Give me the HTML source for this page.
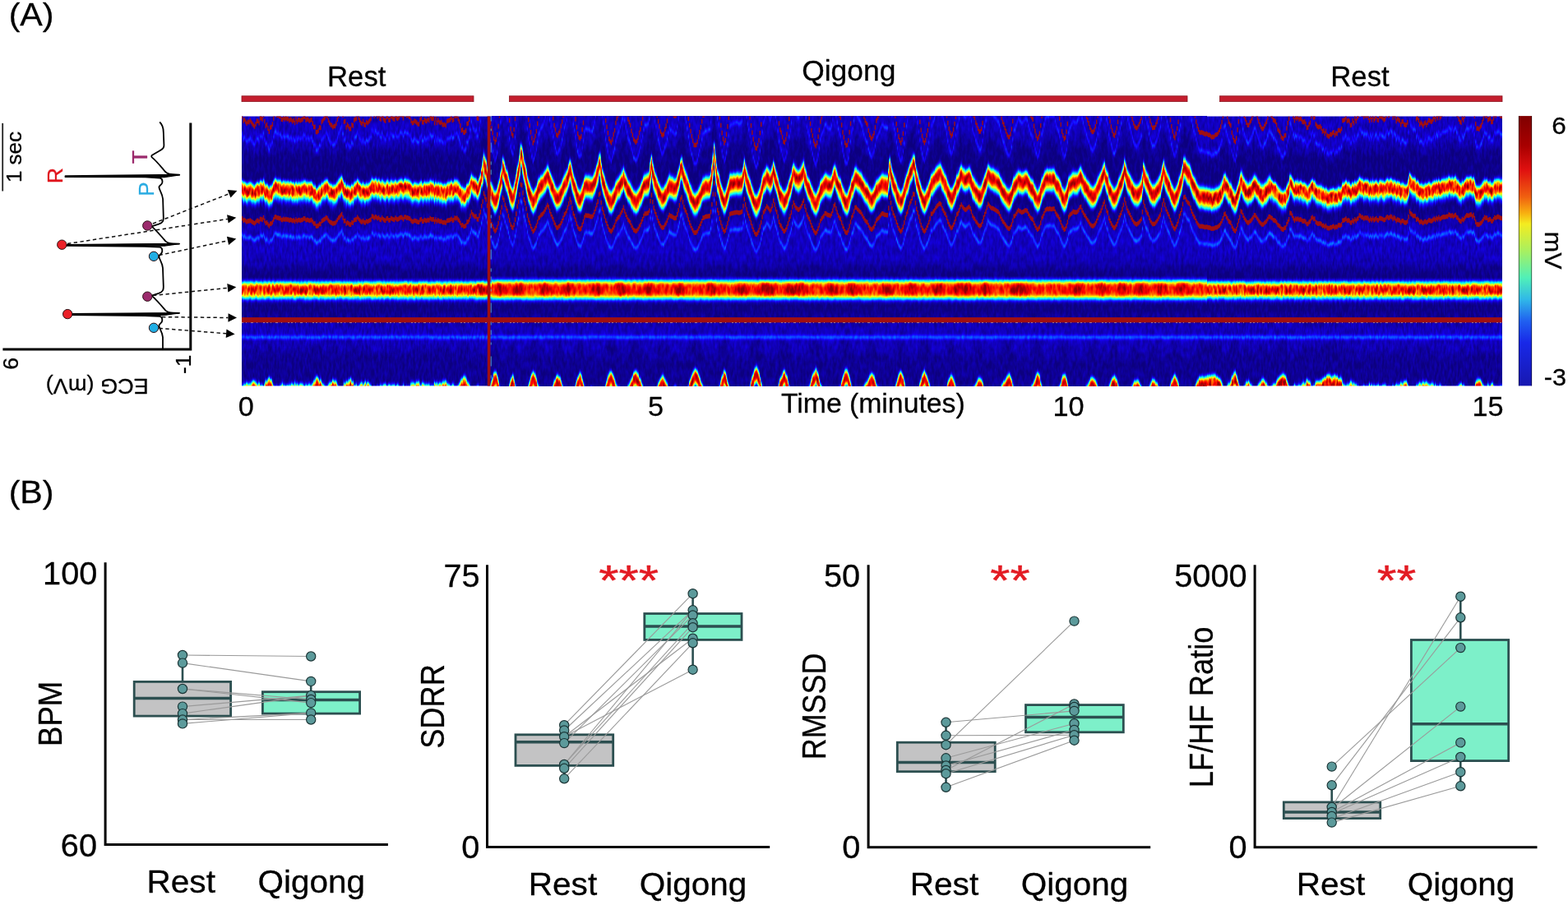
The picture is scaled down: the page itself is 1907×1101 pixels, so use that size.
<!DOCTYPE html>
<html lang="en"><head><meta charset="utf-8"><title>Qigong ECG figure</title>
<style>
html,body{margin:0;padding:0;background:#fff}
svg{display:block}
text{font-family:"Liberation Sans",Arial,Helvetica,sans-serif}
</style></head><body>
<svg width="1907" height="1101" viewBox="0 0 1907 1101">
<defs>
<path id="tr" fill="none" stroke-linejoin="miter" d="M292.00,2.2921H294.00V2.2921h1.36V2.3181h1.36V2.3105h1.36V2.3231h1.36V2.3346h1.36V2.3239h1.36V2.3261h1.36V2.3158h1.36V2.3255h1.36V2.3363h1.36V2.3454h1.36V2.3528h1.36V2.3378h1.36V2.3199h1.36V2.3192h1.36V2.3313h1.36V2.3012h1.36V2.3011h1.36V2.3086h1.36V2.2828h1.36V2.3208h1.36V2.3493h1.36V2.3412h1.36V2.3634h1.36V2.3835h1.36V2.3590h1.36V2.3557h1.36V2.3384h1.36V2.3045h1.36V2.2773h1.36V2.2722h1.36V2.2847h1.36V2.2843h1.36V2.2910h1.36V2.2908h1.36V2.3093h1.36V2.3105h1.36V2.2986h1.36V2.3082h1.36V2.3001h1.36V2.3072h1.36V2.3054h1.36V2.3165h1.36V2.3087h1.36V2.3129h1.36V2.3226h1.36V2.3142h1.36V2.3307h1.36V2.3065h1.36V2.3234h1.36V2.3122h1.36V2.3114h1.36V2.3170h1.36V2.3125h1.36V2.3080h1.36V2.2938h1.36V2.2957h1.36V2.3144h1.36V2.3075h1.36V2.3120h1.36V2.3193h1.36V2.3143h1.36V2.3108h1.36V2.3338h1.36V2.3557h1.36V2.3546h1.36V2.3853h1.36V2.3867h1.36V2.3785h1.36V2.3583h1.36V2.3597h1.36V2.3247h1.36V2.3164h1.36V2.3058h1.36V2.2978h1.36V2.2824h1.36V2.2910h1.36V2.3152h1.36V2.3298h1.36V2.3414h1.36V2.3460h1.36V2.3566h1.36V2.3507h1.36V2.3497h1.36V2.3357h1.36V2.3095h1.36V2.2876h1.36V2.2757h1.36V2.2551h1.36V2.2394h1.36V2.2853h1.36V2.3240h1.36V2.3202h1.36V2.3577h1.36V2.3424h1.36V2.3525h1.36V2.3666h1.36V2.3665h1.36V2.3417h1.36V2.3474h1.36V2.3148h1.36V2.3077h1.36V2.3036h1.36V2.2775h1.36V2.2973h1.36V2.3144h1.36V2.3289h1.36V2.3369h1.36V2.3210h1.36V2.3401h1.36V2.3435h1.36V2.3252h1.36V2.3320h1.36V2.3229h1.36V2.3166h1.36V2.3050h1.36V2.2655h1.36V2.2713h1.36V2.2874h1.36V2.2730h1.36V2.2784h1.36V2.2921h1.36V2.2815h1.36V2.3036h1.36V2.3084h1.36V2.2845h1.36V2.3030h1.36V2.3134h1.36V2.3184h1.36V2.2953h1.36V2.2912h1.36V2.3132h1.36V2.3135h1.36V2.2900h1.36V2.2971h1.36V2.3053h1.36V2.3087h1.36V2.2863h1.36V2.3015h1.36V2.3054h1.36V2.2964h1.36V2.2834h1.36V2.2786h1.36V2.2857h1.36V2.3019h1.36V2.2768h1.36V2.2749h1.36V2.2861h1.36V2.2835h1.36V2.2932h1.36V2.2962h1.36V2.3192h1.36V2.3316h1.36V2.3296h1.36V2.3182h1.36V2.3225h1.36V2.3288h1.36V2.3380h1.36V2.3377h1.36V2.3117h1.36V2.3023h1.36V2.3265h1.36V2.3276h1.36V2.3107h1.36V2.3187h1.36V2.3197h1.36V2.3095h1.36V2.3159h1.36V2.2917h1.36V2.3025h1.36V2.3056h1.36V2.3035h1.36V2.3317h1.36V2.3065h1.36V2.3300h1.36V2.3136h1.36V2.3258h1.36V2.3306h1.36V2.3259h1.36V2.3397h1.36V2.3431h1.36V2.3390h1.36V2.3466h1.36V2.3218h1.36V2.3166h1.36V2.3155h1.36V2.3100h1.36V2.2982h1.36V2.3158h1.36V2.3108h1.36V2.2855h1.36V2.2918h1.36V2.2852h1.36V2.3059h1.36V2.3214h1.36V2.3473h1.36V2.3768h1.36V2.3723h1.36V2.3896h1.36V2.3874h1.36V2.3788h1.36V2.3364h1.36V2.3328h1.36V2.3092h1.36V2.2643h1.36V2.2167h1.36V2.2418h1.36V2.2591h1.36V2.2712h1.36V2.2663h1.36V2.3013h1.36V2.3038h1.36V2.2584h1.36V2.2136h1.36V2.1418h1.36V2.0882h1.36V1.9884h1.36V2.0313h1.36V2.0624h1.36V2.1379h1.36V2.2112h1.36V2.2735h1.36V2.3288h1.36V2.3634h1.36V2.3912h1.36V2.4244h1.36V2.4473h1.36V2.4332h1.36V2.4015h1.36V2.3512h1.36V2.2864h1.36V2.2160h1.36V2.1577h1.36V2.0404h1.36V2.0675h1.36V2.1271h1.36V2.1716h1.36V2.1997h1.36V2.2620h1.36V2.3154h1.36V2.3669h1.36V2.3960h1.36V2.4074h1.36V2.3704h1.36V2.3058h1.36V2.2366h1.36V2.1458h1.36V2.0902h1.36V2.0025h1.36V1.8803h1.36V1.8892h1.36V1.9813h1.36V2.0634h1.36V2.1091h1.36V2.1757h1.36V2.2560h1.36V2.3110h1.36V2.3471h1.36V2.3873h1.36V2.4232h1.36V2.4524h1.36V2.4369h1.36V2.4108h1.36V2.3815h1.36V2.3350h1.36V2.2895h1.36V2.2770h1.36V2.2549h1.36V2.2434h1.36V2.2314h1.36V2.2105h1.36V2.1841h1.36V2.1571h1.36V2.1307h1.36V2.1538h1.36V2.2021h1.36V2.2425h1.36V2.2718h1.36V2.3013h1.36V2.3454h1.36V2.3714h1.36V2.4021h1.36V2.4078h1.36V2.3920h1.36V2.3806h1.36V2.3501h1.36V2.3233h1.36V2.2869h1.36V2.2462h1.36V2.2302h1.36V2.2008h1.36V2.1616h1.36V2.1134h1.36V2.0592h1.36V2.0978h1.36V2.1673h1.36V2.2309h1.36V2.2638h1.36V2.3072h1.36V2.3569h1.36V2.3953h1.36V2.4181h1.36V2.4247h1.36V2.4138h1.36V2.3713h1.36V2.3301h1.36V2.2787h1.36V2.2552h1.36V2.2578h1.36V2.2591h1.36V2.2605h1.36V2.2676h1.36V2.2712h1.36V2.2707h1.36V2.2493h1.36V2.2127h1.36V2.1749h1.36V2.1299h1.36V2.0860h1.36V2.0038h1.36V1.9880h1.36V2.1005h1.36V2.1746h1.36V2.2210h1.36V2.2675h1.36V2.3169h1.36V2.3551h1.36V2.3919h1.36V2.4273h1.36V2.4421h1.36V2.4512h1.36V2.4313h1.36V2.4013h1.36V2.3754h1.36V2.3303h1.36V2.3022h1.36V2.2842h1.36V2.2726h1.36V2.2452h1.36V2.2198h1.36V2.1944h1.36V2.1583h1.36V2.2054h1.36V2.2462h1.36V2.2744h1.36V2.3077h1.36V2.3254h1.36V2.3441h1.36V2.3795h1.36V2.4045h1.36V2.4308h1.36V2.4403h1.36V2.4488h1.36V2.4396h1.36V2.4206h1.36V2.3912h1.36V2.3696h1.36V2.3323h1.36V2.3020h1.36V2.2605h1.36V2.2344h1.36V2.2346h1.36V2.2302h1.36V2.2242h1.36V2.1979h1.36V2.0818h1.36V2.0084h1.36V2.0926h1.36V2.1641h1.36V2.2088h1.36V2.2418h1.36V2.2855h1.36V2.3218h1.36V2.3521h1.36V2.3828h1.36V2.3999h1.36V2.4059h1.36V2.3973h1.36V2.3704h1.36V2.3488h1.36V2.3184h1.36V2.2805h1.36V2.2509h1.36V2.2634h1.36V2.2658h1.36V2.2771h1.36V2.2863h1.36V2.2900h1.36V2.2835h1.36V2.2441h1.36V2.1931h1.36V2.1341h1.36V2.0608h1.36V2.0352h1.36V2.0942h1.36V2.1532h1.36V2.1913h1.36V2.2147h1.36V2.2543h1.36V2.3045h1.36V2.3457h1.36V2.3804h1.36V2.4118h1.36V2.4390h1.36V2.4646h1.36V2.4664h1.36V2.4634h1.36V2.4449h1.36V2.4152h1.36V2.3876h1.36V2.3566h1.36V2.3219h1.36V2.2858h1.36V2.2826h1.36V2.2726h1.36V2.2683h1.36V2.2674h1.36V2.2644h1.36V2.2618h1.36V2.2131h1.36V2.1230h1.36V1.9971h1.36V1.8645h1.36V1.9995h1.36V2.1098h1.36V2.1909h1.36V2.2276h1.36V2.2970h1.36V2.3452h1.36V2.3910h1.36V2.4273h1.36V2.4528h1.36V2.4369h1.36V2.3998h1.36V2.3522h1.36V2.2986h1.36V2.2422h1.36V2.2324h1.36V2.2296h1.36V2.2270h1.36V2.2219h1.36V2.2213h1.36V2.2175h1.36V2.2207h1.36V2.2239h1.36V2.2231h1.36V2.2164h1.36V2.2073h1.36V2.1422h1.36V2.0578h1.36V2.1237h1.36V2.1809h1.36V2.2285h1.36V2.2594h1.36V2.2979h1.36V2.3467h1.36V2.3889h1.36V2.4301h1.36V2.4598h1.36V2.4824h1.36V2.4866h1.36V2.4664h1.36V2.4368h1.36V2.3914h1.36V2.3401h1.36V2.2749h1.36V2.2197h1.36V2.2038h1.36V2.1755h1.36V2.1453h1.36V2.1599h1.36V2.1788h1.36V2.2014h1.36V2.1816h1.36V2.1392h1.36V2.0766h1.36V2.1264h1.36V2.1808h1.36V2.2145h1.36V2.2707h1.36V2.3334h1.36V2.3732h1.36V2.3889h1.36V2.4171h1.36V2.4442h1.36V2.4504h1.36V2.4307h1.36V2.3991h1.36V2.3544h1.36V2.3057h1.36V2.2658h1.36V2.2184h1.36V2.1524h1.36V2.1009h1.36V2.1335h1.36V2.1608h1.36V2.1718h1.36V2.1866h1.36V2.1829h1.36V2.1621h1.36V2.1422h1.36V2.1065h1.36V2.0777h1.36V2.1439h1.36V2.1907h1.36V2.2447h1.36V2.2743h1.36V2.2994h1.36V2.3353h1.36V2.3766h1.36V2.4083h1.36V2.4399h1.36V2.4612h1.36V2.4721h1.36V2.4509h1.36V2.4143h1.36V2.3744h1.36V2.3227h1.36V2.2967h1.36V2.2793h1.36V2.2625h1.36V2.2339h1.36V2.2308h1.36V2.2460h1.36V2.2524h1.36V2.2550h1.36V2.2597h1.36V2.2364h1.36V2.1987h1.36V2.1427h1.36V2.1244h1.36V2.1728h1.36V2.2180h1.36V2.2581h1.36V2.2841h1.36V2.2984h1.36V2.3437h1.36V2.3879h1.36V2.4183h1.36V2.4512h1.36V2.4682h1.36V2.4641h1.36V2.4371h1.36V2.3872h1.36V2.3350h1.36V2.2796h1.36V2.2549h1.36V2.2072h1.36V2.1593h1.36V2.1585h1.36V2.1778h1.36V2.1932h1.36V2.2074h1.36V2.2169h1.36V2.2396h1.36V2.2673h1.36V2.2923h1.36V2.3168h1.36V2.3317h1.36V2.3413h1.36V2.3767h1.36V2.4035h1.36V2.4201h1.36V2.4280h1.36V2.4110h1.36V2.3916h1.36V2.3578h1.36V2.3182h1.36V2.3002h1.36V2.2869h1.36V2.2720h1.36V2.2511h1.36V2.2343h1.36V2.2340h1.36V2.2466h1.36V2.2481h1.36V2.2523h1.36V2.2522h1.36V2.1665h1.36V2.0346h1.36V2.1031h1.36V2.1735h1.36V2.2262h1.36V2.2577h1.36V2.2888h1.36V2.3368h1.36V2.3740h1.36V2.4134h1.36V2.4376h1.36V2.4530h1.36V2.4318h1.36V2.3956h1.36V2.3434h1.36V2.2849h1.36V2.2385h1.36V2.2111h1.36V2.1572h1.36V2.1091h1.36V2.0842h1.36V2.0464h1.36V1.9965h1.36V2.0012h1.36V2.1042h1.36V2.1763h1.36V2.2221h1.36V2.2741h1.36V2.3246h1.36V2.3739h1.36V2.4095h1.36V2.4362h1.36V2.4519h1.36V2.4365h1.36V2.4059h1.36V2.3771h1.36V2.3400h1.36V2.2961h1.36V2.2378h1.36V2.2346h1.36V2.2112h1.36V2.1948h1.36V2.1673h1.36V2.1465h1.36V2.1326h1.36V2.1166h1.36V2.1110h1.36V2.1249h1.36V2.1716h1.36V2.1986h1.36V2.2266h1.36V2.2458h1.36V2.2867h1.36V2.3310h1.36V2.3652h1.36V2.3919h1.36V2.4097h1.36V2.3984h1.36V2.3707h1.36V2.3366h1.36V2.2945h1.36V2.2456h1.36V2.2332h1.36V2.1947h1.36V2.1519h1.36V2.1245h1.36V2.1498h1.36V2.1663h1.36V2.1821h1.36V2.1870h1.36V2.1743h1.36V2.1604h1.36V2.1512h1.36V2.1732h1.36V2.2117h1.36V2.2593h1.36V2.2852h1.36V2.2993h1.36V2.3281h1.36V2.3448h1.36V2.3669h1.36V2.3822h1.36V2.3832h1.36V2.3676h1.36V2.3304h1.36V2.2797h1.36V2.2416h1.36V2.2072h1.36V2.1604h1.36V2.1175h1.36V2.1373h1.36V2.1543h1.36V2.1670h1.36V2.1693h1.36V2.1764h1.36V2.1857h1.36V2.1944h1.36V2.2038h1.36V2.2132h1.36V2.2344h1.36V2.2680h1.36V2.3003h1.36V2.3258h1.36V2.3397h1.36V2.3619h1.36V2.3809h1.36V2.4031h1.36V2.4153h1.36V2.4165h1.36V2.3980h1.36V2.3681h1.36V2.3200h1.36V2.2671h1.36V2.2604h1.36V2.2371h1.36V2.2129h1.36V2.1928h1.36V2.2028h1.36V2.2091h1.36V2.2194h1.36V2.2141h1.36V2.2064h1.36V2.1956h1.36V2.1947h1.36V2.2038h1.36V2.2367h1.36V2.2616h1.36V2.2851h1.36V2.2962h1.36V2.3090h1.36V2.3499h1.36V2.3798h1.36V2.4081h1.36V2.4282h1.36V2.4176h1.36V2.3951h1.36V2.3465h1.36V2.2892h1.36V2.2658h1.36V2.2318h1.36V2.1945h1.36V2.1819h1.36V2.1757h1.36V2.1801h1.36V2.1742h1.36V2.1783h1.36V2.1794h1.36V2.1754h1.36V2.1764h1.36V2.2098h1.36V2.2384h1.36V2.2574h1.36V2.2759h1.36V2.3022h1.36V2.3405h1.36V2.3823h1.36V2.4064h1.36V2.4274h1.36V2.4185h1.36V2.3843h1.36V2.3362h1.36V2.2764h1.36V2.2514h1.36V2.2393h1.36V2.2269h1.36V2.2088h1.36V2.2161h1.36V2.2166h1.36V2.2175h1.36V2.2069h1.36V2.1896h1.36V2.1578h1.36V2.1508h1.36V2.1948h1.36V2.2223h1.36V2.2491h1.36V2.2652h1.36V2.2929h1.36V2.3129h1.36V2.3337h1.36V2.3572h1.36V2.3748h1.36V2.3856h1.36V2.3845h1.36V2.3727h1.36V2.3516h1.36V2.3242h1.36V2.2867h1.36V2.2513h1.36V2.2272h1.36V2.1986h1.36V2.1612h1.36V2.1188h1.36V2.0893h1.36V2.1498h1.36V2.1996h1.36V2.2233h1.36V2.2889h1.36V2.3205h1.36V2.3533h1.36V2.3780h1.36V2.4014h1.36V2.4084h1.36V2.3908h1.36V2.3633h1.36V2.3240h1.36V2.2838h1.36V2.2528h1.36V2.2259h1.36V2.1788h1.36V2.1280h1.36V2.0612h1.36V2.1097h1.36V2.1663h1.36V2.2011h1.36V2.2265h1.36V2.2507h1.36V2.2828h1.36V2.3074h1.36V2.3320h1.36V2.3502h1.36V2.3596h1.36V2.3633h1.36V2.3528h1.36V2.3392h1.36V2.3223h1.36V2.3002h1.36V2.2134h1.36V2.0924h1.36V2.1419h1.36V2.1900h1.36V2.2209h1.36V2.2415h1.36V2.2865h1.36V2.3188h1.36V2.3429h1.36V2.3606h1.36V2.3595h1.36V2.3577h1.36V2.3409h1.36V2.3228h1.36V2.2988h1.36V2.2713h1.36V2.2464h1.36V2.1888h1.36V2.1250h1.36V2.0735h1.36V2.1290h1.36V2.1792h1.36V2.2116h1.36V2.2396h1.36V2.2707h1.36V2.3129h1.36V2.3516h1.36V2.3812h1.36V2.4098h1.36V2.4211h1.36V2.3955h1.36V2.3639h1.36V2.3243h1.36V2.2664h1.36V2.2332h1.36V2.1874h1.36V2.1187h1.36V2.0381h1.36V2.0298h1.36V2.0636h1.36V2.0904h1.36V2.1039h1.36V2.1148h1.36V2.1634h1.36V2.2064h1.36V2.2406h1.36V2.2688h1.36V2.2882h1.36V2.3228h1.36V2.3493h1.36V2.3712h1.36V2.3867h1.36V2.3907h1.36V2.3873h1.36V2.3914h1.36V2.3951h1.36V2.3997h1.36V2.3953h1.36V2.3992h1.36V2.4042h1.36V2.4037h1.36V2.4114h1.36V2.4180h1.36V2.4151h1.36V2.4156h1.36V2.4053h1.36V2.4019h1.36V2.3990h1.36V2.3881h1.36V2.3742h1.36V2.3527h1.36V2.3253h1.36V2.2907h1.36V2.2447h1.36V2.2360h1.36V2.2712h1.36V2.2930h1.36V2.3238h1.36V2.3367h1.36V2.3471h1.36V2.3893h1.36V2.4159h1.36V2.4376h1.36V2.4461h1.36V2.4228h1.36V2.3724h1.36V2.3224h1.36V2.2775h1.36V2.2044h1.36V2.2160h1.36V2.2562h1.36V2.2879h1.36V2.3082h1.36V2.3288h1.36V2.3440h1.36V2.3440h1.36V2.3275h1.36V2.3183h1.36V2.3014h1.36V2.2801h1.36V2.2531h1.36V2.2560h1.36V2.2795h1.36V2.2997h1.36V2.3213h1.36V2.3417h1.36V2.3554h1.36V2.3669h1.36V2.3654h1.36V2.3509h1.36V2.3380h1.36V2.3234h1.36V2.2994h1.36V2.2735h1.36V2.2708h1.36V2.2822h1.36V2.2928h1.36V2.3125h1.36V2.3166h1.36V2.3237h1.36V2.3417h1.36V2.3702h1.36V2.3794h1.36V2.3900h1.36V2.4151h1.36V2.4234h1.36V2.4264h1.36V2.4079h1.36V2.4057h1.36V2.3631h1.36V2.3319h1.36V2.3042h1.36V2.2247h1.36V2.2325h1.36V2.2584h1.36V2.2929h1.36V2.3160h1.36V2.2951h1.36V2.3043h1.36V2.2955h1.36V2.3107h1.36V2.3036h1.36V2.3076h1.36V2.3233h1.36V2.3261h1.36V2.3223h1.36V2.3360h1.36V2.3601h1.36V2.3583h1.36V2.3390h1.36V2.3281h1.36V2.2916h1.36V2.2768h1.36V2.2991h1.36V2.2954h1.36V2.3379h1.36V2.3486h1.36V2.3559h1.36V2.3557h1.36V2.3525h1.36V2.3634h1.36V2.3827h1.36V2.3776h1.36V2.3948h1.36V2.3810h1.36V2.4055h1.36V2.4117h1.36V2.4123h1.36V2.4008h1.36V2.4021h1.36V2.3925h1.36V2.3876h1.36V2.4052h1.36V2.3927h1.36V2.3969h1.36V2.3771h1.36V2.3742h1.36V2.3802h1.36V2.3667h1.36V2.3171h1.36V2.3143h1.36V2.3090h1.36V2.2960h1.36V2.3202h1.36V2.3141h1.36V2.3210h1.36V2.3454h1.36V2.3428h1.36V2.3176h1.36V2.3317h1.36V2.3024h1.36V2.3208h1.36V2.3006h1.36V2.2894h1.36V2.2566h1.36V2.2621h1.36V2.2796h1.36V2.2784h1.36V2.2957h1.36V2.2820h1.36V2.2891h1.36V2.2835h1.36V2.2991h1.36V2.3170h1.36V2.2955h1.36V2.3123h1.36V2.2922h1.36V2.3153h1.36V2.3034h1.36V2.2910h1.36V2.3120h1.36V2.3154h1.36V2.2916h1.36V2.2908h1.36V2.2950h1.36V2.3027h1.36V2.3128h1.36V2.3061h1.36V2.2851h1.36V2.2721h1.36V2.2861h1.36V2.2816h1.36V2.2671h1.36V2.2765h1.36V2.2988h1.36V2.2815h1.36V2.2957h1.36V2.3208h1.36V2.3060h1.36V2.3113h1.36V2.3180h1.36V2.3412h1.36V2.3230h1.36V2.3219h1.36V2.3391h1.36V2.3435h1.36V2.3432h1.36V2.3275h1.36V2.2729h1.36V2.2083h1.36V2.2339h1.36V2.2456h1.36V2.2627h1.36V2.2595h1.36V2.2653h1.36V2.3061h1.36V2.2973h1.36V2.3155h1.36V2.3393h1.36V2.3288h1.36V2.3383h1.36V2.3499h1.36V2.3351h1.36V2.3286h1.36V2.3430h1.36V2.3295h1.36V2.3151h1.36V2.3167h1.36V2.3246h1.36V2.3217h1.36V2.3085h1.36V2.2943h1.36V2.3106h1.36V2.2870h1.36V2.3012h1.36V2.2785h1.36V2.3002h1.36V2.2916h1.36V2.2795h1.36V2.2740h1.36V2.2750h1.36V2.2745h1.36V2.2678h1.36V2.2688h1.36V2.2460h1.36V2.2533h1.36V2.2641h1.36V2.2540h1.36V2.2711h1.36V2.2571h1.36V2.2500h1.36V2.2774h1.36V2.2866h1.36V2.3094h1.36V2.3237h1.36V2.3286h1.36V2.3008h1.36V2.3123h1.36V2.2908h1.36V2.2704h1.36V2.2539h1.36V2.2575h1.36V2.2574h1.36V2.2480h1.36V2.2450h1.36V2.2686h1.36V2.2509h1.36V2.2902h1.36V2.3366h1.36V2.3654h1.36V2.3636h1.36V2.3690h1.36V2.3555h1.36V2.3461h1.36V2.3258h1.36V2.3028h1.36V2.2791h1.36V2.2887h1.36V2.2865h1.36V2.3126h1.36V2.3063h1.36V2.3026h1.36V2.3248h1.36V2.3245h1.36V2.3025h1.36V2.2803h1.36V2.2879h1.36V2.2762h1.36V2.2716h1.36V2.2778h1.36V2.2859h1.36V2.2896h1.36V2.2948h1.36V2.2891h1.36"/>
<path id="tf" fill="none" stroke-linejoin="miter" d="M292.00,4.7948H294.00V4.7948h1.36V4.7792h1.36V4.7723h1.36V4.7744h1.36V4.7502h1.36V4.7660h1.36V4.7670h1.36V4.7735h1.36V4.7565h1.36V4.7409h1.36V4.7274h1.36V4.7343h1.36V4.7453h1.36V4.7599h1.36V4.7781h1.36V4.7490h1.36V4.7885h1.36V4.7858h1.36V4.7848h1.36V4.8145h1.36V4.7695h1.36V4.7272h1.36V4.7374h1.36V4.7100h1.36V4.6877h1.36V4.7127h1.36V4.7172h1.36V4.7571h1.36V4.7976h1.36V4.8118h1.36V4.8139h1.36V4.8032h1.36V4.8156h1.36V4.8095h1.36V4.7915h1.36V4.7827h1.36V4.7675h1.36V4.7941h1.36V4.7855h1.36V4.8035h1.36V4.7776h1.36V4.7928h1.36V4.7811h1.36V4.7917h1.36V4.7645h1.36V4.7641h1.36V4.7865h1.36V4.7527h1.36V4.7917h1.36V4.7650h1.36V4.7838h1.36V4.7780h1.36V4.7603h1.36V4.7671h1.36V4.7731h1.36V4.7935h1.36V4.8083h1.36V4.7778h1.36V4.7906h1.36V4.7792h1.36V4.7721h1.36V4.7823h1.36V4.7893h1.36V4.7613h1.36V4.7330h1.36V4.7168h1.36V4.6862h1.36V4.6768h1.36V4.6990h1.36V4.7291h1.36V4.7095h1.36V4.7549h1.36V4.7691h1.36V4.7789h1.36V4.8017h1.36V4.8095h1.36V4.8061h1.36V4.7736h1.36V4.7582h1.36V4.7528h1.36V4.7474h1.36V4.7147h1.36V4.7395h1.36V4.7287h1.36V4.7396h1.36V4.7778h1.36V4.8071h1.36V4.8322h1.36V4.8400h1.36V4.8400h1.36V4.8183h1.36V4.7539h1.36V4.7672h1.36V4.7311h1.36V4.7415h1.36V4.7277h1.36V4.7193h1.36V4.7007h1.36V4.7437h1.36V4.7330h1.36V4.7859h1.36V4.7900h1.36V4.7770h1.36V4.8115h1.36V4.7941h1.36V4.7796h1.36V4.7533h1.36V4.7444h1.36V4.7770h1.36V4.7548h1.36V4.7376h1.36V4.7714h1.36V4.7495h1.36V4.7545h1.36V4.7727h1.36V4.7899h1.36V4.8400h1.36V4.8377h1.36V4.8136h1.36V4.8306h1.36V4.8230h1.36V4.8064h1.36V4.8206h1.36V4.7991h1.36V4.7788h1.36V4.8005h1.36V4.7822h1.36V4.7692h1.36V4.7666h1.36V4.8051h1.36V4.7920h1.36V4.7750h1.36V4.7833h1.36V4.7983h1.36V4.7849h1.36V4.7794h1.36V4.7716h1.36V4.8158h1.36V4.7823h1.36V4.7782h1.36V4.8038h1.36V4.8194h1.36V4.8199h1.36V4.8191h1.36V4.7792h1.36V4.8310h1.36V4.8238h1.36V4.8040h1.36V4.8196h1.36V4.8040h1.36V4.8083h1.36V4.7596h1.36V4.7560h1.36V4.7559h1.36V4.7738h1.36V4.7588h1.36V4.7462h1.36V4.7474h1.36V4.7435h1.36V4.7874h1.36V4.7883h1.36V4.7582h1.36V4.7620h1.36V4.7799h1.36V4.7807h1.36V4.7753h1.36V4.7805h1.36V4.7660h1.36V4.8045h1.36V4.7949h1.36V4.7914h1.36V4.7996h1.36V4.7472h1.36V4.7824h1.36V4.7542h1.36V4.7713h1.36V4.7578h1.36V4.7548h1.36V4.7619h1.36V4.7387h1.36V4.7315h1.36V4.7404h1.36V4.7274h1.36V4.7614h1.36V4.7764h1.36V4.7758h1.36V4.7919h1.36V4.7956h1.36V4.7742h1.36V4.7825h1.36V4.8148h1.36V4.8046h1.36V4.8118h1.36V4.7874h1.36V4.7628h1.36V4.7419h1.36V4.7024h1.36V4.7007h1.36V4.6783h1.36V4.6769h1.36V4.6938h1.36V4.7366h1.36V4.7447h1.36V4.7704h1.36V4.8295h1.36V4.8400h1.36V4.8400h1.36V4.8400h1.36V4.8296h1.36V4.8242h1.36V4.7999h1.36V4.7929h1.36V4.8400h1.36V4.8400h1.36V4.8400h1.36V4.8400h1.36V4.8400h1.36V4.8400h1.36V4.8400h1.36V4.8400h1.36V4.8400h1.36V4.8342h1.36V4.7673h1.36V4.7219h1.36V4.6888h1.36V4.6342h1.36V4.6228h1.36V4.6248h1.36V4.6620h1.36V4.7283h1.36V4.7963h1.36V4.8400h1.36V4.8400h1.36V4.8400h1.36V4.8400h1.36V4.8400h1.36V4.8400h1.36V4.8400h1.36V4.8347h1.36V4.7734h1.36V4.7078h1.36V4.6826h1.36V4.6583h1.36V4.7147h1.36V4.7751h1.36V4.8400h1.36V4.8400h1.36V4.8400h1.36V4.8400h1.36V4.8400h1.36V4.8400h1.36V4.8400h1.36V4.8400h1.36V4.8400h1.36V4.8400h1.36V4.8400h1.36V4.7839h1.36V4.7298h1.36V4.6755h1.36V4.6454h1.36V4.6141h1.36V4.6350h1.36V4.6516h1.36V4.6974h1.36V4.7605h1.36V4.7988h1.36V4.8147h1.36V4.8400h1.36V4.8400h1.36V4.8400h1.36V4.8400h1.36V4.8400h1.36V4.8400h1.36V4.8400h1.36V4.8400h1.36V4.8400h1.36V4.8400h1.36V4.8181h1.36V4.7818h1.36V4.7306h1.36V4.7104h1.36V4.6664h1.36V4.6556h1.36V4.6775h1.36V4.6853h1.36V4.7303h1.36V4.7715h1.36V4.8064h1.36V4.8400h1.36V4.8400h1.36V4.8400h1.36V4.8400h1.36V4.8400h1.36V4.8400h1.36V4.8400h1.36V4.8400h1.36V4.8400h1.36V4.8322h1.36V4.7933h1.36V4.7221h1.36V4.6879h1.36V4.6613h1.36V4.6305h1.36V4.6538h1.36V4.7085h1.36V4.7522h1.36V4.8146h1.36V4.8400h1.36V4.8362h1.36V4.8297h1.36V4.8400h1.36V4.8400h1.36V4.8155h1.36V4.8358h1.36V4.8400h1.36V4.8400h1.36V4.8400h1.36V4.8400h1.36V4.8400h1.36V4.8400h1.36V4.8400h1.36V4.8400h1.36V4.8400h1.36V4.8400h1.36V4.8400h1.36V4.7830h1.36V4.7311h1.36V4.6731h1.36V4.6486h1.36V4.6201h1.36V4.6174h1.36V4.6397h1.36V4.6742h1.36V4.7079h1.36V4.7631h1.36V4.7884h1.36V4.8106h1.36V4.8152h1.36V4.8400h1.36V4.8400h1.36V4.8400h1.36V4.8400h1.36V4.8400h1.36V4.8400h1.36V4.8290h1.36V4.7866h1.36V4.7729h1.36V4.7363h1.36V4.7028h1.36V4.6749h1.36V4.6321h1.36V4.6170h1.36V4.6103h1.36V4.6281h1.36V4.6415h1.36V4.6912h1.36V4.7035h1.36V4.7595h1.36V4.7853h1.36V4.8395h1.36V4.8400h1.36V4.8400h1.36V4.8400h1.36V4.8400h1.36V4.8400h1.36V4.8400h1.36V4.8400h1.36V4.8400h1.36V4.8400h1.36V4.8400h1.36V4.8400h1.36V4.8045h1.36V4.7625h1.36V4.7369h1.36V4.7021h1.36V4.6821h1.36V4.6630h1.36V4.6847h1.36V4.7096h1.36V4.7454h1.36V4.7609h1.36V4.8215h1.36V4.8400h1.36V4.8363h1.36V4.8393h1.36V4.8275h1.36V4.8164h1.36V4.8003h1.36V4.8090h1.36V4.8400h1.36V4.8400h1.36V4.8400h1.36V4.8400h1.36V4.8400h1.36V4.8400h1.36V4.8400h1.36V4.8400h1.36V4.8400h1.36V4.8398h1.36V4.7979h1.36V4.7344h1.36V4.7053h1.36V4.6578h1.36V4.6293h1.36V4.6038h1.36V4.5817h1.36V4.5910h1.36V4.6104h1.36V4.6428h1.36V4.6831h1.36V4.7340h1.36V4.7597h1.36V4.7998h1.36V4.8235h1.36V4.8247h1.36V4.8294h1.36V4.8357h1.36V4.8400h1.36V4.8313h1.36V4.8400h1.36V4.8400h1.36V4.8400h1.36V4.8400h1.36V4.8400h1.36V4.8400h1.36V4.8400h1.36V4.8400h1.36V4.7907h1.36V4.7322h1.36V4.6713h1.36V4.6481h1.36V4.6006h1.36V4.6224h1.36V4.6662h1.36V4.7395h1.36V4.7836h1.36V4.8400h1.36V4.8400h1.36V4.8400h1.36V4.8400h1.36V4.8400h1.36V4.8400h1.36V4.8400h1.36V4.8400h1.36V4.8400h1.36V4.8400h1.36V4.8400h1.36V4.8400h1.36V4.8400h1.36V4.8400h1.36V4.8400h1.36V4.8400h1.36V4.8400h1.36V4.8400h1.36V4.8006h1.36V4.7277h1.36V4.6755h1.36V4.6425h1.36V4.5894h1.36V4.5709h1.36V4.5570h1.36V4.5853h1.36V4.6204h1.36V4.6905h1.36V4.7498h1.36V4.8160h1.36V4.8400h1.36V4.8400h1.36V4.8400h1.36V4.8400h1.36V4.8400h1.36V4.8400h1.36V4.8400h1.36V4.8400h1.36V4.8400h1.36V4.8400h1.36V4.8400h1.36V4.8400h1.36V4.8400h1.36V4.8339h1.36V4.7557h1.36V4.7017h1.36V4.6763h1.36V4.6496h1.36V4.6071h1.36V4.6014h1.36V4.6430h1.36V4.6735h1.36V4.7337h1.36V4.7909h1.36V4.8338h1.36V4.8400h1.36V4.8400h1.36V4.8400h1.36V4.8400h1.36V4.8400h1.36V4.8400h1.36V4.8400h1.36V4.8400h1.36V4.8400h1.36V4.8400h1.36V4.8400h1.36V4.8400h1.36V4.8400h1.36V4.8400h1.36V4.8400h1.36V4.8213h1.36V4.7975h1.36V4.7558h1.36V4.7044h1.36V4.6500h1.36V4.6284h1.36V4.6101h1.36V4.5786h1.36V4.6161h1.36V4.6476h1.36V4.7092h1.36V4.7753h1.36V4.7889h1.36V4.8248h1.36V4.8322h1.36V4.8400h1.36V4.8400h1.36V4.8400h1.36V4.8400h1.36V4.8400h1.36V4.8321h1.36V4.8400h1.36V4.8400h1.36V4.8400h1.36V4.8400h1.36V4.8400h1.36V4.8400h1.36V4.8400h1.36V4.8129h1.36V4.8004h1.36V4.7314h1.36V4.6877h1.36V4.6400h1.36V4.6010h1.36V4.5886h1.36V4.5972h1.36V4.6327h1.36V4.6890h1.36V4.7398h1.36V4.8136h1.36V4.8400h1.36V4.8400h1.36V4.8400h1.36V4.8400h1.36V4.8400h1.36V4.8400h1.36V4.8400h1.36V4.8400h1.36V4.8400h1.36V4.8212h1.36V4.7969h1.36V4.7651h1.36V4.7461h1.36V4.7437h1.36V4.7033h1.36V4.6675h1.36V4.6527h1.36V4.6340h1.36V4.6556h1.36V4.6732h1.36V4.7159h1.36V4.7698h1.36V4.7996h1.36V4.8071h1.36V4.8348h1.36V4.8400h1.36V4.8400h1.36V4.8400h1.36V4.8400h1.36V4.8400h1.36V4.8380h1.36V4.8400h1.36V4.8400h1.36V4.8400h1.36V4.8400h1.36V4.8400h1.36V4.8400h1.36V4.8400h1.36V4.8156h1.36V4.7509h1.36V4.6996h1.36V4.6607h1.36V4.6260h1.36V4.6140h1.36V4.6447h1.36V4.6666h1.36V4.7319h1.36V4.8085h1.36V4.8400h1.36V4.8400h1.36V4.8400h1.36V4.8400h1.36V4.8400h1.36V4.8400h1.36V4.8400h1.36V4.8400h1.36V4.8400h1.36V4.8400h1.36V4.8400h1.36V4.8240h1.36V4.7573h1.36V4.7140h1.36V4.6552h1.36V4.6328h1.36V4.6062h1.36V4.6326h1.36V4.6678h1.36V4.7060h1.36V4.7470h1.36V4.7956h1.36V4.8400h1.36V4.8400h1.36V4.8400h1.36V4.8400h1.36V4.8400h1.36V4.8400h1.36V4.8400h1.36V4.8400h1.36V4.8400h1.36V4.8400h1.36V4.8400h1.36V4.8400h1.36V4.8400h1.36V4.8400h1.36V4.8047h1.36V4.7460h1.36V4.7082h1.36V4.6860h1.36V4.6562h1.36V4.6742h1.36V4.7020h1.36V4.7459h1.36V4.7956h1.36V4.8400h1.36V4.8400h1.36V4.8400h1.36V4.8400h1.36V4.8400h1.36V4.8400h1.36V4.8400h1.36V4.8400h1.36V4.8400h1.36V4.8400h1.36V4.8400h1.36V4.8400h1.36V4.8400h1.36V4.8400h1.36V4.8400h1.36V4.8042h1.36V4.7928h1.36V4.7662h1.36V4.7393h1.36V4.7055h1.36V4.6894h1.36V4.7008h1.36V4.7116h1.36V4.7519h1.36V4.8193h1.36V4.8400h1.36V4.8400h1.36V4.8400h1.36V4.8400h1.36V4.8400h1.36V4.8400h1.36V4.8400h1.36V4.8400h1.36V4.8400h1.36V4.8400h1.36V4.8400h1.36V4.8400h1.36V4.8400h1.36V4.8400h1.36V4.8372h1.36V4.7866h1.36V4.7605h1.36V4.7334h1.36V4.7243h1.36V4.7000h1.36V4.6717h1.36V4.6561h1.36V4.6420h1.36V4.6750h1.36V4.7127h1.36V4.7708h1.36V4.8400h1.36V4.8354h1.36V4.8400h1.36V4.8400h1.36V4.8400h1.36V4.8400h1.36V4.8400h1.36V4.8400h1.36V4.8400h1.36V4.8400h1.36V4.8400h1.36V4.8400h1.36V4.8400h1.36V4.8400h1.36V4.8310h1.36V4.8211h1.36V4.7868h1.36V4.7702h1.36V4.7325h1.36V4.7079h1.36V4.6569h1.36V4.6294h1.36V4.6411h1.36V4.6660h1.36V4.7389h1.36V4.8015h1.36V4.8400h1.36V4.8400h1.36V4.8400h1.36V4.8400h1.36V4.8400h1.36V4.8400h1.36V4.8400h1.36V4.8400h1.36V4.8400h1.36V4.8400h1.36V4.8400h1.36V4.8400h1.36V4.8400h1.36V4.8400h1.36V4.8177h1.36V4.7898h1.36V4.7527h1.36V4.6965h1.36V4.6588h1.36V4.6494h1.36V4.6515h1.36V4.6990h1.36V4.7559h1.36V4.8245h1.36V4.8400h1.36V4.8400h1.36V4.8400h1.36V4.8400h1.36V4.8400h1.36V4.8400h1.36V4.8400h1.36V4.8400h1.36V4.8400h1.36V4.8400h1.36V4.8400h1.36V4.8400h1.36V4.8400h1.36V4.8400h1.36V4.8260h1.36V4.7960h1.36V4.7812h1.36V4.7488h1.36V4.7210h1.36V4.6912h1.36V4.6877h1.36V4.6923h1.36V4.7034h1.36V4.7273h1.36V4.7551h1.36V4.8053h1.36V4.8397h1.36V4.8400h1.36V4.8400h1.36V4.8400h1.36V4.8400h1.36V4.8400h1.36V4.8400h1.36V4.8400h1.36V4.8400h1.36V4.7996h1.36V4.7710h1.36V4.7284h1.36V4.6960h1.36V4.6800h1.36V4.6664h1.36V4.6937h1.36V4.7106h1.36V4.7604h1.36V4.8156h1.36V4.8400h1.36V4.8400h1.36V4.8400h1.36V4.8400h1.36V4.8400h1.36V4.8400h1.36V4.8400h1.36V4.8400h1.36V4.8400h1.36V4.8400h1.36V4.8068h1.36V4.7930h1.36V4.7563h1.36V4.7295h1.36V4.7291h1.36V4.7202h1.36V4.7209h1.36V4.7395h1.36V4.7744h1.36V4.8023h1.36V4.8400h1.36V4.8400h1.36V4.8400h1.36V4.8400h1.36V4.8400h1.36V4.8400h1.36V4.8014h1.36V4.7784h1.36V4.7414h1.36V4.7155h1.36V4.7142h1.36V4.7173h1.36V4.7440h1.36V4.7537h1.36V4.7901h1.36V4.8206h1.36V4.8400h1.36V4.8400h1.36V4.8400h1.36V4.8400h1.36V4.8400h1.36V4.8400h1.36V4.8400h1.36V4.8400h1.36V4.8339h1.36V4.7743h1.36V4.7310h1.36V4.7019h1.36V4.6639h1.36V4.6493h1.36V4.6868h1.36V4.7073h1.36V4.7550h1.36V4.8400h1.36V4.8400h1.36V4.8400h1.36V4.8400h1.36V4.8400h1.36V4.8400h1.36V4.8400h1.36V4.8400h1.36V4.8400h1.36V4.8400h1.36V4.8400h1.36V4.8400h1.36V4.8400h1.36V4.8340h1.36V4.8154h1.36V4.7665h1.36V4.7244h1.36V4.7111h1.36V4.6799h1.36V4.6840h1.36V4.6800h1.36V4.6769h1.36V4.6868h1.36V4.6737h1.36V4.6836h1.36V4.6646h1.36V4.6657h1.36V4.6649h1.36V4.6698h1.36V4.6562h1.36V4.6616h1.36V4.6576h1.36V4.6552h1.36V4.6765h1.36V4.6786h1.36V4.6910h1.36V4.7012h1.36V4.7233h1.36V4.7615h1.36V4.8009h1.36V4.8400h1.36V4.8400h1.36V4.8304h1.36V4.7920h1.36V4.7661h1.36V4.7588h1.36V4.7362h1.36V4.6739h1.36V4.6642h1.36V4.6304h1.36V4.6162h1.36V4.6556h1.36V4.7038h1.36V4.7582h1.36V4.8071h1.36V4.8400h1.36V4.8400h1.36V4.8400h1.36V4.7965h1.36V4.7854h1.36V4.7460h1.36V4.7445h1.36V4.7276h1.36V4.7685h1.36V4.7721h1.36V4.7973h1.36V4.8261h1.36V4.8400h1.36V4.8400h1.36V4.8269h1.36V4.7970h1.36V4.7734h1.36V4.7421h1.36V4.7374h1.36V4.7132h1.36V4.7049h1.36V4.7199h1.36V4.7546h1.36V4.7541h1.36V4.7948h1.36V4.8238h1.36V4.8345h1.36V4.8102h1.36V4.7926h1.36V4.7693h1.36V4.7629h1.36V4.7640h1.36V4.7317h1.36V4.7058h1.36V4.6903h1.36V4.6754h1.36V4.6594h1.36V4.6511h1.36V4.6461h1.36V4.6600h1.36V4.6646h1.36V4.7216h1.36V4.7572h1.36V4.7878h1.36V4.8400h1.36V4.8400h1.36V4.8400h1.36V4.8074h1.36V4.7698h1.36V4.7994h1.36V4.7986h1.36V4.7940h1.36V4.7862h1.36V4.7897h1.36V4.7802h1.36V4.7643h1.36V4.7503h1.36V4.7673h1.36V4.7568h1.36V4.7095h1.36V4.7256h1.36V4.7344h1.36V4.7490h1.36V4.8051h1.36V4.8207h1.36V4.7856h1.36V4.7937h1.36V4.7373h1.36V4.7383h1.36V4.7292h1.36V4.7363h1.36V4.7335h1.36V4.7259h1.36V4.7000h1.36V4.7009h1.36V4.6792h1.36V4.6851h1.36V4.6575h1.36V4.6604h1.36V4.6543h1.36V4.6619h1.36V4.6769h1.36V4.6779h1.36V4.6766h1.36V4.6563h1.36V4.6701h1.36V4.6689h1.36V4.7008h1.36V4.7030h1.36V4.6885h1.36V4.7030h1.36V4.7708h1.36V4.7778h1.36V4.7809h1.36V4.7970h1.36V4.7778h1.36V4.7832h1.36V4.7728h1.36V4.7350h1.36V4.7424h1.36V4.7763h1.36V4.7524h1.36V4.7782h1.36V4.7710h1.36V4.8002h1.36V4.8002h1.36V4.8400h1.36V4.8400h1.36V4.8199h1.36V4.8067h1.36V4.7855h1.36V4.8138h1.36V4.8059h1.36V4.8025h1.36V4.8044h1.36V4.7653h1.36V4.8037h1.36V4.7752h1.36V4.8001h1.36V4.7813h1.36V4.7993h1.36V4.7918h1.36V4.7833h1.36V4.7771h1.36V4.8029h1.36V4.8003h1.36V4.7979h1.36V4.7833h1.36V4.7871h1.36V4.7759h1.36V4.8015h1.36V4.8305h1.36V4.8078h1.36V4.8173h1.36V4.8342h1.36V4.8254h1.36V4.7849h1.36V4.8191h1.36V4.7931h1.36V4.7716h1.36V4.7813h1.36V4.7862h1.36V4.7787h1.36V4.7458h1.36V4.7588h1.36V4.7635h1.36V4.7418h1.36V4.7321h1.36V4.7298h1.36V4.7619h1.36V4.8233h1.36V4.8400h1.36V4.8400h1.36V4.8400h1.36V4.8374h1.36V4.8313h1.36V4.8329h1.36V4.7848h1.36V4.7861h1.36V4.7674h1.36V4.7567h1.36V4.7688h1.36V4.7555h1.36V4.7318h1.36V4.7555h1.36V4.7483h1.36V4.7387h1.36V4.7613h1.36V4.7693h1.36V4.7802h1.36V4.7695h1.36V4.7608h1.36V4.7709h1.36V4.8019h1.36V4.7729h1.36V4.8136h1.36V4.7920h1.36V4.8266h1.36V4.7816h1.36V4.8007h1.36V4.8252h1.36V4.8310h1.36V4.8300h1.36V4.8125h1.36V4.8301h1.36V4.8317h1.36V4.8400h1.36V4.8363h1.36V4.8400h1.36V4.8400h1.36V4.8266h1.36V4.8351h1.36V4.8400h1.36V4.8074h1.36V4.8093h1.36V4.7856h1.36V4.7676h1.36V4.7583h1.36V4.7891h1.36V4.7821h1.36V4.8043h1.36V4.8297h1.36V4.8376h1.36V4.8400h1.36V4.8317h1.36V4.8400h1.36V4.8400h1.36V4.8274h1.36V4.8400h1.36V4.8148h1.36V4.7537h1.36V4.7205h1.36V4.7089h1.36V4.7117h1.36V4.7185h1.36V4.7400h1.36V4.7694h1.36V4.7859h1.36V4.8103h1.36V4.8152h1.36V4.8027h1.36V4.7720h1.36V4.7961h1.36V4.7996h1.36V4.7705h1.36V4.7535h1.36V4.7957h1.36V4.8136h1.36V4.8047h1.36V4.8153h1.36V4.8210h1.36V4.8115h1.36V4.8048h1.36V4.7938h1.36V4.7958h1.36V4.8053h1.36"/>
<clipPath id="cRest"><rect x="280" y="100" width="306" height="400"/><rect x="1546" y="100" width="300" height="400"/></clipPath>
<clipPath id="cQi"><rect x="586" y="100" width="960" height="400"/></clipPath>
<clipPath id="kR"><rect x="294" y="141.6" width="304" height="327.9"/><rect x="1468" y="141.6" width="359" height="327.9"/></clipPath>
<clipPath id="kQ"><rect x="598" y="141.6" width="870" height="327.9"/></clipPath>
<clipPath id="hc"><rect x="294" y="141.6" width="1533" height="327.9"/></clipPath>

<filter id="b1" filterUnits="userSpaceOnUse" x="254" y="81.6" width="1613" height="447.9" color-interpolation-filters="sRGB"><feGaussianBlur stdDeviation="0.4 0.8"/></filter>
<filter id="b2" filterUnits="userSpaceOnUse" x="254" y="81.6" width="1613" height="447.9" color-interpolation-filters="sRGB"><feGaussianBlur stdDeviation="0.5 1.6"/></filter>
<filter id="b3" filterUnits="userSpaceOnUse" x="254" y="81.6" width="1613" height="447.9" color-interpolation-filters="sRGB"><feGaussianBlur stdDeviation="0.7 3.2"/></filter>
<filter id="b4" filterUnits="userSpaceOnUse" x="254" y="81.6" width="1613" height="447.9" color-interpolation-filters="sRGB"><feGaussianBlur stdDeviation="0.7 4.0"/></filter>
<filter id="b6" filterUnits="userSpaceOnUse" x="254" y="81.6" width="1613" height="447.9" color-interpolation-filters="sRGB"><feGaussianBlur stdDeviation="1.5 7"/></filter>
<filter id="bb" filterUnits="userSpaceOnUse" x="254" y="81.6" width="1613" height="447.9" color-interpolation-filters="sRGB"><feGaussianBlur stdDeviation="2.5 3.0"/></filter>
<filter id="jetR" filterUnits="userSpaceOnUse" x="254" y="81.6" width="1613" height="447.9" color-interpolation-filters="sRGB">
<feTurbulence type="fractalNoise" baseFrequency="0.38 0.10" numOctaves="2" seed="11" result="n0"/>
<feColorMatrix in="n0" type="matrix" values="1.6 0 0 0 -0.3  1.6 0 0 0 -0.3  1.6 0 0 0 -0.3  0 0 0 0 1" result="n"/>
<feComposite in="SourceGraphic" in2="n" operator="arithmetic" k1="0.3" k2="0.850" k3="0.06" k4="-0.030" result="v"/>
<feComponentTransfer in="v">
<feFuncR type="table" tableValues="0.05 0.09 0.02 0 0.5 1 1 1 0.56"/>
<feFuncG type="table" tableValues="0 0 0.5 1 1 1 0.5 0 0"/>
<feFuncB type="table" tableValues="0.5 1 1 1 0.5 0 0 0 0.02"/>
</feComponentTransfer>
</filter>
<filter id="jetQ" filterUnits="userSpaceOnUse" x="254" y="81.6" width="1613" height="447.9" color-interpolation-filters="sRGB">
<feTurbulence type="fractalNoise" baseFrequency="0.30 0.10" numOctaves="2" seed="5" result="n0"/>
<feColorMatrix in="n0" type="matrix" values="1.6 0 0 0 -0.3  1.6 0 0 0 -0.3  1.6 0 0 0 -0.3  0 0 0 0 1" result="n"/>
<feComposite in="SourceGraphic" in2="n" operator="arithmetic" k1="0.14" k2="0.930" k3="0.06" k4="-0.030" result="v"/>
<feComponentTransfer in="v">
<feFuncR type="table" tableValues="0.05 0.09 0.02 0 0.5 1 1 1 0.56"/>
<feFuncG type="table" tableValues="0 0 0.5 1 1 1 0.5 0 0"/>
<feFuncB type="table" tableValues="0.5 1 1 1 0.5 0 0 0 0.02"/>
</feComponentTransfer>
</filter>

<linearGradient id="cb" x1="0" y1="0" x2="0" y2="1">
<stop offset="0" stop-color="#800000"/><stop offset="0.11" stop-color="#a80000"/><stop offset="0.2" stop-color="#e01010"/>
<stop offset="0.3" stop-color="#f06010"/><stop offset="0.36" stop-color="#f8b010"/><stop offset="0.4" stop-color="#f4ec20"/>
<stop offset="0.5" stop-color="#a8f060"/><stop offset="0.6" stop-color="#50f0b8"/><stop offset="0.68" stop-color="#30b8e8"/>
<stop offset="0.76" stop-color="#2060f0"/><stop offset="0.84" stop-color="#1828e8"/><stop offset="1" stop-color="#1818b0"/>
</linearGradient>
</defs>
<rect width="1907" height="1101" fill="#fff"/>

<g clip-path="url(#hc)">
<g clip-path="url(#kR)"><g filter="url(#jetR)">
<rect x="289" y="136.6" width="1543" height="337.9" fill="#101010"/>
<g filter="url(#b6)">
<use href="#tr" transform="translate(0,-6) scale(1,100)" stroke="#020202" stroke-width="0.8400" stroke-opacity="1.0"/>
<rect x="289" y="324" width="1543" height="64" fill="#020202"/>
</g>
<g filter="url(#b6)"><use href="#tf" transform="translate(0,-24) scale(1,100)" stroke="#020202" stroke-width="0.5600" stroke-opacity="0.8"/></g>
<g filter="url(#b2)">
<use href="#tr" transform="translate(0,57.0) scale(1,100)" stroke="#454545" stroke-width="0.0500" stroke-opacity="0.75"/>
<use href="#tr" transform="translate(0,-294.6) scale(1,200)" stroke="#404040" stroke-width="0.0250" stroke-opacity="0.6"/>
<rect x="289" y="408" width="1543" height="4.5" fill="#454545" fill-opacity="0.75"/>
</g>
<g filter="url(#b3)">
<use href="#tr" transform="translate(0,11) scale(1,100)" stroke="#545454" stroke-width="0.0900" stroke-opacity="0.8"/>
<rect x="289" y="358" width="1543" height="7" fill="#545454" fill-opacity="0.8"/>
<g clip-path="url(#cRest)"><use href="#tr" transform="translate(0,0) scale(1,100)" stroke="#e3e3e3" stroke-width="0.1650" stroke-opacity="1.0"/></g>
<rect x="289" y="344.2" width="1543" height="16.4" fill="#e0e0e0"/>
<rect x="598" y="342.2" width="870" height="19.6" fill="#dbdbdb"/>
</g>
<g clip-path="url(#cQi)"><g filter="url(#b4)"><use href="#tr" transform="translate(0,0.5) scale(1,100)" stroke="#f2f2f2" stroke-width="0.1950" stroke-opacity="1.0"/></g></g>
<g filter="url(#b3)"><use href="#tf" transform="translate(0,0) scale(1,100)" stroke="#f2f2f2" stroke-width="0.1600" stroke-opacity="1.0"/></g>
<g filter="url(#bb)">
<ellipse cx="585.3" cy="351.8" rx="5.2" ry="6.2" fill="#ffffff"/>
<ellipse cx="608.9" cy="351.8" rx="5.2" ry="6.2" fill="#ffffff"/>
<ellipse cx="630.9" cy="351.8" rx="5.2" ry="6.2" fill="#ffffff"/>
<ellipse cx="663.4" cy="351.8" rx="5.2" ry="6.2" fill="#ffffff"/>
<ellipse cx="690.7" cy="351.8" rx="5.2" ry="6.2" fill="#ffffff"/>
<ellipse cx="726.3" cy="351.8" rx="5.2" ry="6.2" fill="#ffffff"/>
<ellipse cx="755.4" cy="351.8" rx="5.2" ry="6.2" fill="#ffffff"/>
<ellipse cx="789.0" cy="351.8" rx="5.2" ry="6.2" fill="#ffffff"/>
<ellipse cx="825.7" cy="351.8" rx="5.2" ry="6.2" fill="#ffffff"/>
<ellipse cx="865.5" cy="351.8" rx="5.2" ry="6.2" fill="#ffffff"/>
<ellipse cx="902.2" cy="351.8" rx="5.2" ry="6.2" fill="#ffffff"/>
<ellipse cx="929.5" cy="351.8" rx="5.2" ry="6.2" fill="#ffffff"/>
<ellipse cx="937.9" cy="351.8" rx="5.2" ry="6.2" fill="#ffffff"/>
<ellipse cx="961.7" cy="351.8" rx="5.2" ry="6.2" fill="#ffffff"/>
<ellipse cx="974.3" cy="351.8" rx="5.2" ry="6.2" fill="#ffffff"/>
<ellipse cx="1012.0" cy="351.8" rx="5.2" ry="6.2" fill="#ffffff"/>
<ellipse cx="1037.2" cy="351.8" rx="5.2" ry="6.2" fill="#ffffff"/>
<ellipse cx="1079.1" cy="351.8" rx="5.2" ry="6.2" fill="#ffffff"/>
<ellipse cx="1108.5" cy="351.8" rx="5.2" ry="6.2" fill="#ffffff"/>
<ellipse cx="1141.0" cy="351.8" rx="5.2" ry="6.2" fill="#ffffff"/>
<ellipse cx="1165.9" cy="351.8" rx="5.2" ry="6.2" fill="#ffffff"/>
<ellipse cx="1176.4" cy="351.8" rx="5.2" ry="6.2" fill="#ffffff"/>
<ellipse cx="1198.4" cy="351.8" rx="5.2" ry="6.2" fill="#ffffff"/>
<ellipse cx="1235.1" cy="351.8" rx="5.2" ry="6.2" fill="#ffffff"/>
<ellipse cx="1245.6" cy="351.8" rx="5.2" ry="6.2" fill="#ffffff"/>
<ellipse cx="1311.1" cy="351.8" rx="5.2" ry="6.2" fill="#ffffff"/>
<ellipse cx="1340.0" cy="351.8" rx="5.2" ry="6.2" fill="#ffffff"/>
<ellipse cx="1364.8" cy="351.8" rx="5.2" ry="6.2" fill="#ffffff"/>
<ellipse cx="1387.9" cy="351.8" rx="5.2" ry="6.2" fill="#ffffff"/>
<ellipse cx="1412.0" cy="351.8" rx="5.2" ry="6.2" fill="#ffffff"/>
<ellipse cx="1437.2" cy="351.8" rx="5.2" ry="6.2" fill="#ffffff"/>
</g>
</g></g>
<g clip-path="url(#kQ)"><g filter="url(#jetQ)">
<rect x="289" y="136.6" width="1543" height="337.9" fill="#101010"/>
<g filter="url(#b6)">
<use href="#tr" transform="translate(0,-6) scale(1,100)" stroke="#020202" stroke-width="0.8400" stroke-opacity="1.0"/>
<rect x="289" y="324" width="1543" height="64" fill="#020202"/>
</g>
<g filter="url(#b6)"><use href="#tf" transform="translate(0,-24) scale(1,100)" stroke="#020202" stroke-width="0.5600" stroke-opacity="0.8"/></g>
<g filter="url(#b2)">
<use href="#tr" transform="translate(0,57.0) scale(1,100)" stroke="#454545" stroke-width="0.0500" stroke-opacity="0.75"/>
<use href="#tr" transform="translate(0,-294.6) scale(1,200)" stroke="#404040" stroke-width="0.0250" stroke-opacity="0.6"/>
<rect x="289" y="408" width="1543" height="4.5" fill="#454545" fill-opacity="0.75"/>
</g>
<g filter="url(#b3)">
<use href="#tr" transform="translate(0,11) scale(1,100)" stroke="#545454" stroke-width="0.0900" stroke-opacity="0.8"/>
<rect x="289" y="358" width="1543" height="7" fill="#545454" fill-opacity="0.8"/>
<g clip-path="url(#cRest)"><use href="#tr" transform="translate(0,0) scale(1,100)" stroke="#e3e3e3" stroke-width="0.1650" stroke-opacity="1.0"/></g>
<rect x="289" y="344.2" width="1543" height="16.4" fill="#e0e0e0"/>
<rect x="598" y="342.2" width="870" height="19.6" fill="#dbdbdb"/>
</g>
<g clip-path="url(#cQi)"><g filter="url(#b4)"><use href="#tr" transform="translate(0,0.5) scale(1,100)" stroke="#f2f2f2" stroke-width="0.1950" stroke-opacity="1.0"/></g></g>
<g filter="url(#b3)"><use href="#tf" transform="translate(0,0) scale(1,100)" stroke="#f2f2f2" stroke-width="0.1600" stroke-opacity="1.0"/></g>
<g filter="url(#bb)">
<ellipse cx="585.3" cy="351.8" rx="5.2" ry="6.2" fill="#ffffff"/>
<ellipse cx="608.9" cy="351.8" rx="5.2" ry="6.2" fill="#ffffff"/>
<ellipse cx="630.9" cy="351.8" rx="5.2" ry="6.2" fill="#ffffff"/>
<ellipse cx="663.4" cy="351.8" rx="5.2" ry="6.2" fill="#ffffff"/>
<ellipse cx="690.7" cy="351.8" rx="5.2" ry="6.2" fill="#ffffff"/>
<ellipse cx="726.3" cy="351.8" rx="5.2" ry="6.2" fill="#ffffff"/>
<ellipse cx="755.4" cy="351.8" rx="5.2" ry="6.2" fill="#ffffff"/>
<ellipse cx="789.0" cy="351.8" rx="5.2" ry="6.2" fill="#ffffff"/>
<ellipse cx="825.7" cy="351.8" rx="5.2" ry="6.2" fill="#ffffff"/>
<ellipse cx="865.5" cy="351.8" rx="5.2" ry="6.2" fill="#ffffff"/>
<ellipse cx="902.2" cy="351.8" rx="5.2" ry="6.2" fill="#ffffff"/>
<ellipse cx="929.5" cy="351.8" rx="5.2" ry="6.2" fill="#ffffff"/>
<ellipse cx="937.9" cy="351.8" rx="5.2" ry="6.2" fill="#ffffff"/>
<ellipse cx="961.7" cy="351.8" rx="5.2" ry="6.2" fill="#ffffff"/>
<ellipse cx="974.3" cy="351.8" rx="5.2" ry="6.2" fill="#ffffff"/>
<ellipse cx="1012.0" cy="351.8" rx="5.2" ry="6.2" fill="#ffffff"/>
<ellipse cx="1037.2" cy="351.8" rx="5.2" ry="6.2" fill="#ffffff"/>
<ellipse cx="1079.1" cy="351.8" rx="5.2" ry="6.2" fill="#ffffff"/>
<ellipse cx="1108.5" cy="351.8" rx="5.2" ry="6.2" fill="#ffffff"/>
<ellipse cx="1141.0" cy="351.8" rx="5.2" ry="6.2" fill="#ffffff"/>
<ellipse cx="1165.9" cy="351.8" rx="5.2" ry="6.2" fill="#ffffff"/>
<ellipse cx="1176.4" cy="351.8" rx="5.2" ry="6.2" fill="#ffffff"/>
<ellipse cx="1198.4" cy="351.8" rx="5.2" ry="6.2" fill="#ffffff"/>
<ellipse cx="1235.1" cy="351.8" rx="5.2" ry="6.2" fill="#ffffff"/>
<ellipse cx="1245.6" cy="351.8" rx="5.2" ry="6.2" fill="#ffffff"/>
<ellipse cx="1311.1" cy="351.8" rx="5.2" ry="6.2" fill="#ffffff"/>
<ellipse cx="1340.0" cy="351.8" rx="5.2" ry="6.2" fill="#ffffff"/>
<ellipse cx="1364.8" cy="351.8" rx="5.2" ry="6.2" fill="#ffffff"/>
<ellipse cx="1387.9" cy="351.8" rx="5.2" ry="6.2" fill="#ffffff"/>
<ellipse cx="1412.0" cy="351.8" rx="5.2" ry="6.2" fill="#ffffff"/>
<ellipse cx="1437.2" cy="351.8" rx="5.2" ry="6.2" fill="#ffffff"/>
</g>
</g></g>
<use href="#tr" transform="translate(0,36.5) scale(1,100)" stroke="#a00f11" stroke-width="0.0560" stroke-opacity="1.0"/>
<use href="#tr" transform="translate(0,-316.6) scale(1,200)" stroke="#a00f11" stroke-width="0.0280" stroke-opacity="1.0"/>
<rect x="289" y="386.1" width="1543" height="6.3" fill="#a00f11"/>
<line x1="294" y1="392.6" x2="1827" y2="392.6" stroke="#f2d9a0" stroke-width="1" stroke-dasharray="2 3 1 5 3 4 1 7 2 2" stroke-opacity="0.55"/>
<rect x="592.8" y="136.6" width="3.6" height="337.9" fill="#a00f11"/>
<line x1="597.3" y1="141.6" x2="597.3" y2="469.5" stroke="#58c8d8" stroke-width="1.3" stroke-dasharray="6 9 3 14 12 11 4 6" stroke-opacity="0.6"/>
</g>
<rect x="294" y="116.8" width="282" height="6.8" fill="#c41e2e" stroke="#8e1420" stroke-width="0.8"/>
<rect x="619.5" y="116.8" width="824.5" height="6.8" fill="#c41e2e" stroke="#8e1420" stroke-width="0.8"/>
<rect x="1483.5" y="116.8" width="343.5" height="6.8" fill="#c41e2e" stroke="#8e1420" stroke-width="0.8"/>
<rect x="1847" y="141.1" width="16" height="328.3" fill="url(#cb)"/>
<path d="M1847.3,141.1V469.4M1862.7,141.1V469.4" stroke="#000" stroke-opacity="0.55" stroke-width="1" fill="none"/>
<g id="labels">
<text transform="translate(10.65,30.90) scale(0.4120,0.3930)" font-size="100" fill="#000" stroke="#000" stroke-width="0.75" stroke-linejoin="round">(A)</text>
<text transform="translate(10.65,611.50) scale(0.4120,0.3930)" font-size="100" fill="#000" stroke="#000" stroke-width="0.75" stroke-linejoin="round">(B)</text>
<text transform="translate(398.04,104.80) scale(0.3470,0.3505)" font-size="100" fill="#000" stroke="#000" stroke-width="0.86" stroke-linejoin="round">Rest</text>
<text transform="translate(975.18,98.20) scale(0.3540,0.3505)" font-size="100" fill="#000" stroke="#000" stroke-width="0.85" stroke-linejoin="round">Qigong</text>
<text transform="translate(1618.29,104.80) scale(0.3470,0.3505)" font-size="100" fill="#000" stroke="#000" stroke-width="0.86" stroke-linejoin="round">Rest</text>
<text transform="translate(289.69,505.76) scale(0.3430,0.3390)" font-size="100" fill="#000" stroke="#000" stroke-width="0.88" stroke-linejoin="round">0</text>
<text transform="translate(788.08,505.76) scale(0.3430,0.3390)" font-size="100" fill="#000" stroke="#000" stroke-width="0.88" stroke-linejoin="round">5</text>
<text transform="translate(1280.41,505.76) scale(0.3430,0.3390)" font-size="100" fill="#000" stroke="#000" stroke-width="0.88" stroke-linejoin="round">10</text>
<text transform="translate(1790.50,505.76) scale(0.3430,0.3390)" font-size="100" fill="#000" stroke="#000" stroke-width="0.88" stroke-linejoin="round">15</text>
<text transform="translate(949.94,502.50) scale(0.3374,0.3370)" font-size="100" fill="#000" stroke="#000" stroke-width="0.89" stroke-linejoin="round">Time (minutes)</text>
<text transform="translate(1887.34,162.50) scale(0.3150,0.3030)" font-size="100" fill="#000" stroke="#000" stroke-width="0.97" stroke-linejoin="round">6</text>
<text transform="translate(1877.83,469.40) scale(0.3050,0.3030)" font-size="100" fill="#000" stroke="#000" stroke-width="0.99" stroke-linejoin="round">-3</text>
<text transform="translate(1878.90,281.77) rotate(90) scale(0.3050,0.3010)" font-size="100" fill="#000" stroke="#000" stroke-width="0.99" stroke-linejoin="round">mV</text>
</g>
<g id="ecg">
<text transform="translate(26.44,222.12) rotate(-90) scale(0.2600,0.2580)" font-size="100" fill="#000" stroke="#000" stroke-width="1.16" stroke-linejoin="round">1 sec</text>
<text transform="translate(76.30,223.17) rotate(-90) scale(0.2660,0.2660)" font-size="100" fill="#e0141c" stroke="#e0141c" stroke-width="1.13" stroke-linejoin="round">R</text>
<text transform="translate(178.80,199.24) rotate(-90) scale(0.2700,0.2590)" font-size="100" fill="#9b2a6c" stroke="#9b2a6c" stroke-width="1.13" stroke-linejoin="round">T</text>
<text transform="translate(186.50,238.75) rotate(-90) scale(0.2610,0.2590)" font-size="100" fill="#29abe2" stroke="#29abe2" stroke-width="1.15" stroke-linejoin="round">P</text>
<text transform="translate(21.54,449.73) rotate(-90) scale(0.2660,0.2600)" font-size="100" fill="#000" stroke="#000" stroke-width="1.14" stroke-linejoin="round">6</text>
<text transform="translate(232.40,455.08) rotate(-90) scale(0.2630,0.2580)" font-size="100" fill="#000" stroke="#000" stroke-width="1.15" stroke-linejoin="round">-1</text>
<text transform="translate(180.84,460.70) rotate(180) scale(0.2715,0.2630)" font-size="100" fill="#000" stroke="#000" stroke-width="1.12" stroke-linejoin="round">ECG (mV)</text>
<line x1="3.2" y1="149.9" x2="3.2" y2="232.5" stroke="#222" stroke-width="1.8"/>
<path d="M231.8,149.5V425H3.4" fill="none" stroke="#000" stroke-width="3"/>
<path d="M194.2,148.5 C198,152 198.8,156 198.8,161 L199.4,176 C199.6,179.5 198.5,181 194,183.5 L185,188.8 C184,189.6 184,190.6 185,191.6 C190,195.5 196,203 201,208.8 C203.5,211.6 206,212.2 218.2,212.6 L79.5,214.2 L79.5,215.2 L177,215.4 L194.5,216.6 C197.4,217.2 197.8,219 197.4,222 C197,225 193.6,225.4 193.4,227.6 C193.4,231 197.4,235 198.1,242 L198.8,264.2 C198.9,268.2 198.5,270.7 193,272.7 L184.5,275.4 C190,280.2 196,287.2 201.5,293.7 C204,296.0 206,296.3 218,296.6 L80,297.8 L80,298.8 L176,299.8 L194.5,300.6 C197,301.2 197.6,303.2 197.2,306.2 C196.8,309.2 193.6,309.7 193.4,312.0 C193.4,315.2 197.4,319.2 198,326.2 L198.8,348.4 C198.9,352.4 198.5,354.9 193,356.9 L184.5,359.6 C190,364.4 196,371.4 201.5,377.9 C204,380.2 206,380.5 218,380.8 L87,382.0 L87,383.0 L176,384.0 L194.5,384.8 C197,385.4 197.6,387.4 197.2,390.4 C196.8,393.4 193.6,393.9 193.4,396.2 C193.4,399.4 197.4,403.4 198,410.4 L198,424" fill="none" stroke="#000" stroke-width="1.8" stroke-linejoin="round"/>
<path d="M79.5,214.7L200,215.6L218,213.0Z" fill="#000" stroke="#000" stroke-width="1.2" stroke-linejoin="round"/>
<path d="M80,298.3L200,299.2L218,296.6Z" fill="#000" stroke="#000" stroke-width="1.2" stroke-linejoin="round"/>
<path d="M87,382.5L200,383.4L218,380.8Z" fill="#000" stroke="#000" stroke-width="1.2" stroke-linejoin="round"/>
<line x1="186.0" y1="272.0" x2="278.6" y2="235.7" stroke="#111" stroke-width="1.5" stroke-dasharray="4.4 3.4"/>
<path d="M288.4,231.9L280.5,240.6L276.7,230.9Z" fill="#000"/>
<line x1="82.0" y1="296.5" x2="276.9" y2="266.4" stroke="#111" stroke-width="1.5" stroke-dasharray="4.4 3.4"/>
<path d="M287.3,264.8L277.7,271.5L276.1,261.3Z" fill="#000"/>
<line x1="193.5" y1="310.5" x2="277.0" y2="292.8" stroke="#111" stroke-width="1.5" stroke-dasharray="4.4 3.4"/>
<path d="M287.3,290.6L278.1,297.9L275.9,287.7Z" fill="#000"/>
<line x1="186.0" y1="359.5" x2="276.9" y2="350.3" stroke="#111" stroke-width="1.5" stroke-dasharray="4.4 3.4"/>
<path d="M287.3,349.2L277.4,355.4L276.3,345.1Z" fill="#000"/>
<line x1="197.0" y1="385.6" x2="277.5" y2="386.5" stroke="#111" stroke-width="1.5" stroke-dasharray="4.4 3.4"/>
<path d="M288.0,386.6L277.4,391.7L277.6,381.3Z" fill="#000"/>
<line x1="193.5" y1="399.3" x2="275.1" y2="405.8" stroke="#111" stroke-width="1.5" stroke-dasharray="4.4 3.4"/>
<path d="M285.6,406.6L274.7,411.0L275.5,400.6Z" fill="#000"/>
<circle cx="179.3" cy="274.5" r="5.7" fill="#9b2a6c" stroke="#2a1014" stroke-width="1"/>
<circle cx="179.3" cy="360.7" r="5.7" fill="#9b2a6c" stroke="#2a1014" stroke-width="1"/>
<circle cx="75.3" cy="297.7" r="5.7" fill="#ea2028" stroke="#2a1014" stroke-width="1"/>
<circle cx="82.2" cy="382.1" r="5.7" fill="#ea2028" stroke="#2a1014" stroke-width="1"/>
<circle cx="187" cy="311.8" r="5.7" fill="#21aee4" stroke="#2a1014" stroke-width="1"/>
<circle cx="187" cy="398.8" r="5.7" fill="#21aee4" stroke="#2a1014" stroke-width="1"/>
</g>
<g>
<path d="M128.1,684.2V1027.5H471.9" fill="none" stroke="#000" stroke-width="3"/>
<line x1="222" y1="806.6" x2="222" y2="880.4" stroke="#2c4f50" stroke-width="2.6"/>
<rect x="163.2" y="829.4" width="117.4" height="41.7" fill="#c3c3c4" stroke="#2c4f50" stroke-width="2.8"/>
<line x1="163.2" y1="849.5" x2="280.6" y2="849.5" stroke="#2c4f50" stroke-width="3.5"/>
<line x1="378.2" y1="828.9" x2="378.2" y2="875.5" stroke="#2c4f50" stroke-width="2.6"/>
<rect x="319.4" y="841.7" width="118.2" height="26.4" fill="#7df0c9" stroke="#2c4f50" stroke-width="2.8"/>
<line x1="319.4" y1="851.5" x2="437.6" y2="851.5" stroke="#2c4f50" stroke-width="3.5"/>
<line x1="222" y1="797" x2="378.2" y2="798.5" stroke="#9a9a9a" stroke-width="1.1"/>
<line x1="222" y1="806.6" x2="378.2" y2="828.9" stroke="#9a9a9a" stroke-width="1.1"/>
<line x1="222" y1="838" x2="378.2" y2="851" stroke="#9a9a9a" stroke-width="1.1"/>
<line x1="222" y1="838" x2="378.2" y2="855.1" stroke="#9a9a9a" stroke-width="1.1"/>
<line x1="222" y1="859.6" x2="378.2" y2="846.1" stroke="#9a9a9a" stroke-width="1.1"/>
<line x1="222" y1="868.1" x2="378.2" y2="846.1" stroke="#9a9a9a" stroke-width="1.1"/>
<line x1="222" y1="875.5" x2="378.2" y2="867.4" stroke="#9a9a9a" stroke-width="1.1"/>
<line x1="222" y1="875.5" x2="378.2" y2="875.5" stroke="#9a9a9a" stroke-width="1.1"/>
<line x1="222" y1="880.4" x2="378.2" y2="867.4" stroke="#9a9a9a" stroke-width="1.1"/>
<circle cx="222" cy="797" r="5.6" fill="#5c9a9b" stroke="#1b3536" stroke-width="1.2"/>
<circle cx="222" cy="806.6" r="5.6" fill="#5c9a9b" stroke="#1b3536" stroke-width="1.2"/>
<circle cx="222" cy="838" r="5.6" fill="#5c9a9b" stroke="#1b3536" stroke-width="1.2"/>
<circle cx="222" cy="859.6" r="5.6" fill="#5c9a9b" stroke="#1b3536" stroke-width="1.2"/>
<circle cx="222" cy="868.1" r="5.6" fill="#5c9a9b" stroke="#1b3536" stroke-width="1.2"/>
<circle cx="222" cy="875.5" r="5.6" fill="#5c9a9b" stroke="#1b3536" stroke-width="1.2"/>
<circle cx="222" cy="880.4" r="5.6" fill="#5c9a9b" stroke="#1b3536" stroke-width="1.2"/>
<circle cx="378.2" cy="798.5" r="5.6" fill="#5c9a9b" stroke="#1b3536" stroke-width="1.2"/>
<circle cx="378.2" cy="828.9" r="5.6" fill="#5c9a9b" stroke="#1b3536" stroke-width="1.2"/>
<circle cx="378.2" cy="846.1" r="5.6" fill="#5c9a9b" stroke="#1b3536" stroke-width="1.2"/>
<circle cx="378.2" cy="851" r="5.6" fill="#5c9a9b" stroke="#1b3536" stroke-width="1.2"/>
<circle cx="378.2" cy="855.1" r="5.6" fill="#5c9a9b" stroke="#1b3536" stroke-width="1.2"/>
<circle cx="378.2" cy="867.4" r="5.6" fill="#5c9a9b" stroke="#1b3536" stroke-width="1.2"/>
<circle cx="378.2" cy="875.5" r="5.6" fill="#5c9a9b" stroke="#1b3536" stroke-width="1.2"/>
<text transform="translate(52.09,711.01) scale(0.3970,0.3900)" font-size="100" fill="#000" stroke="#000" stroke-width="0.76" stroke-linejoin="round">100</text>
<text transform="translate(73.82,1042.11) scale(0.3970,0.3900)" font-size="100" fill="#000" stroke="#000" stroke-width="0.76" stroke-linejoin="round">60</text>
<text transform="translate(74.96,907.91) rotate(-90) scale(0.3650,0.4030)" font-size="100" fill="#000" stroke="#000" stroke-width="0.78" stroke-linejoin="round">BPM</text>
<text transform="translate(178.40,1086.00) scale(0.4066,0.3960)" font-size="100" fill="#000" stroke="#000" stroke-width="0.75" stroke-linejoin="round">Rest</text>
<text transform="translate(313.48,1086.00) scale(0.4050,0.3960)" font-size="100" fill="#000" stroke="#000" stroke-width="0.75" stroke-linejoin="round">Qigong</text>
</g>
<g>
<path d="M592.5,687.2V1030.5H936.2" fill="none" stroke="#000" stroke-width="3"/>
<line x1="686.2" y1="882.2" x2="686.2" y2="947.3" stroke="#2c4f50" stroke-width="2.6"/>
<rect x="627" y="893.8" width="118.7" height="37.6" fill="#c3c3c4" stroke="#2c4f50" stroke-width="2.8"/>
<line x1="627" y1="902.7" x2="745.7" y2="902.7" stroke="#2c4f50" stroke-width="3.5"/>
<line x1="842.6" y1="722.2" x2="842.6" y2="814.7" stroke="#2c4f50" stroke-width="2.6"/>
<rect x="783.8" y="746.5" width="118.2" height="31.9" fill="#7df0c9" stroke="#2c4f50" stroke-width="2.8"/>
<line x1="783.8" y1="762" x2="902" y2="762" stroke="#2c4f50" stroke-width="3.5"/>
<line x1="686.2" y1="882.2" x2="842.6" y2="722.2" stroke="#9a9a9a" stroke-width="1.1"/>
<line x1="686.2" y1="888.5" x2="842.6" y2="742.3" stroke="#9a9a9a" stroke-width="1.1"/>
<line x1="686.2" y1="896.2" x2="842.6" y2="814.7" stroke="#9a9a9a" stroke-width="1.1"/>
<line x1="686.2" y1="896.2" x2="842.6" y2="776.7" stroke="#9a9a9a" stroke-width="1.1"/>
<line x1="686.2" y1="904.1" x2="842.6" y2="748.5" stroke="#9a9a9a" stroke-width="1.1"/>
<line x1="686.2" y1="930" x2="842.6" y2="758.3" stroke="#9a9a9a" stroke-width="1.1"/>
<line x1="686.2" y1="934.8" x2="842.6" y2="763.2" stroke="#9a9a9a" stroke-width="1.1"/>
<line x1="686.2" y1="947.3" x2="842.6" y2="782.3" stroke="#9a9a9a" stroke-width="1.1"/>
<line x1="686.2" y1="930" x2="842.6" y2="742.3" stroke="#9a9a9a" stroke-width="1.1"/>
<circle cx="686.2" cy="882.2" r="5.6" fill="#5c9a9b" stroke="#1b3536" stroke-width="1.2"/>
<circle cx="686.2" cy="888.5" r="5.6" fill="#5c9a9b" stroke="#1b3536" stroke-width="1.2"/>
<circle cx="686.2" cy="896.2" r="5.6" fill="#5c9a9b" stroke="#1b3536" stroke-width="1.2"/>
<circle cx="686.2" cy="904.1" r="5.6" fill="#5c9a9b" stroke="#1b3536" stroke-width="1.2"/>
<circle cx="686.2" cy="930" r="5.6" fill="#5c9a9b" stroke="#1b3536" stroke-width="1.2"/>
<circle cx="686.2" cy="934.8" r="5.6" fill="#5c9a9b" stroke="#1b3536" stroke-width="1.2"/>
<circle cx="686.2" cy="947.3" r="5.6" fill="#5c9a9b" stroke="#1b3536" stroke-width="1.2"/>
<circle cx="842.6" cy="722.2" r="5.6" fill="#5c9a9b" stroke="#1b3536" stroke-width="1.2"/>
<circle cx="842.6" cy="742.3" r="5.6" fill="#5c9a9b" stroke="#1b3536" stroke-width="1.2"/>
<circle cx="842.6" cy="748.5" r="5.6" fill="#5c9a9b" stroke="#1b3536" stroke-width="1.2"/>
<circle cx="842.6" cy="758.3" r="5.6" fill="#5c9a9b" stroke="#1b3536" stroke-width="1.2"/>
<circle cx="842.6" cy="763.2" r="5.6" fill="#5c9a9b" stroke="#1b3536" stroke-width="1.2"/>
<circle cx="842.6" cy="776.7" r="5.6" fill="#5c9a9b" stroke="#1b3536" stroke-width="1.2"/>
<circle cx="842.6" cy="782.3" r="5.6" fill="#5c9a9b" stroke="#1b3536" stroke-width="1.2"/>
<circle cx="842.6" cy="814.7" r="5.6" fill="#5c9a9b" stroke="#1b3536" stroke-width="1.2"/>
<text transform="translate(539.42,714.01) scale(0.3970,0.3900)" font-size="100" fill="#000" stroke="#000" stroke-width="0.76" stroke-linejoin="round">75</text>
<text transform="translate(561.16,1044.41) scale(0.3970,0.3900)" font-size="100" fill="#000" stroke="#000" stroke-width="0.76" stroke-linejoin="round">0</text>
<text transform="translate(540.20,910.77) rotate(-90) scale(0.3620,0.4030)" font-size="100" fill="#000" stroke="#000" stroke-width="0.78" stroke-linejoin="round">SDRR</text>
<text transform="translate(642.63,1089.00) scale(0.4066,0.3960)" font-size="100" fill="#000" stroke="#000" stroke-width="0.75" stroke-linejoin="round">Rest</text>
<text transform="translate(777.68,1089.00) scale(0.4050,0.3960)" font-size="100" fill="#000" stroke="#000" stroke-width="0.75" stroke-linejoin="round">Qigong</text>
<text transform="translate(728.26,723.81) scale(0.6234,0.5114)" font-size="100" fill="#e31b23" stroke="#e31b23" stroke-width="0.88" stroke-linejoin="round">***</text>
</g>
<g>
<path d="M1056.1,687.2V1030.8H1399.2" fill="none" stroke="#000" stroke-width="3"/>
<line x1="1150.5" y1="878.8" x2="1150.5" y2="957.8" stroke="#2c4f50" stroke-width="2.6"/>
<rect x="1091.3" y="903.2" width="118.9" height="35.5" fill="#c3c3c4" stroke="#2c4f50" stroke-width="2.8"/>
<line x1="1091.3" y1="927.6" x2="1210.2" y2="927.6" stroke="#2c4f50" stroke-width="3.5"/>
<line x1="1306.5" y1="856.5" x2="1306.5" y2="900.7" stroke="#2c4f50" stroke-width="2.6"/>
<rect x="1247.5" y="857.6" width="118.8" height="33.2" fill="#7df0c9" stroke="#2c4f50" stroke-width="2.8"/>
<line x1="1247.5" y1="872.5" x2="1366.3" y2="872.5" stroke="#2c4f50" stroke-width="3.5"/>
<line x1="1150.5" y1="878.8" x2="1306.5" y2="864.9" stroke="#9a9a9a" stroke-width="1.1"/>
<line x1="1150.5" y1="894.8" x2="1306.5" y2="894.2" stroke="#9a9a9a" stroke-width="1.1"/>
<line x1="1150.5" y1="906.2" x2="1306.5" y2="755.6" stroke="#9a9a9a" stroke-width="1.1"/>
<line x1="1150.5" y1="922.3" x2="1306.5" y2="880.2" stroke="#9a9a9a" stroke-width="1.1"/>
<line x1="1150.5" y1="931.5" x2="1306.5" y2="888" stroke="#9a9a9a" stroke-width="1.1"/>
<line x1="1150.5" y1="937" x2="1306.5" y2="856.5" stroke="#9a9a9a" stroke-width="1.1"/>
<line x1="1150.5" y1="941.2" x2="1306.5" y2="894.2" stroke="#9a9a9a" stroke-width="1.1"/>
<line x1="1150.5" y1="957.8" x2="1306.5" y2="900.7" stroke="#9a9a9a" stroke-width="1.1"/>
<circle cx="1150.5" cy="878.8" r="5.6" fill="#5c9a9b" stroke="#1b3536" stroke-width="1.2"/>
<circle cx="1150.5" cy="894.8" r="5.6" fill="#5c9a9b" stroke="#1b3536" stroke-width="1.2"/>
<circle cx="1150.5" cy="906.2" r="5.6" fill="#5c9a9b" stroke="#1b3536" stroke-width="1.2"/>
<circle cx="1150.5" cy="922.3" r="5.6" fill="#5c9a9b" stroke="#1b3536" stroke-width="1.2"/>
<circle cx="1150.5" cy="931.5" r="5.6" fill="#5c9a9b" stroke="#1b3536" stroke-width="1.2"/>
<circle cx="1150.5" cy="937" r="5.6" fill="#5c9a9b" stroke="#1b3536" stroke-width="1.2"/>
<circle cx="1150.5" cy="941.2" r="5.6" fill="#5c9a9b" stroke="#1b3536" stroke-width="1.2"/>
<circle cx="1150.5" cy="957.8" r="5.6" fill="#5c9a9b" stroke="#1b3536" stroke-width="1.2"/>
<circle cx="1306.5" cy="755.6" r="5.6" fill="#5c9a9b" stroke="#1b3536" stroke-width="1.2"/>
<circle cx="1306.5" cy="856.5" r="5.6" fill="#5c9a9b" stroke="#1b3536" stroke-width="1.2"/>
<circle cx="1306.5" cy="860" r="5.6" fill="#5c9a9b" stroke="#1b3536" stroke-width="1.2"/>
<circle cx="1306.5" cy="864.9" r="5.6" fill="#5c9a9b" stroke="#1b3536" stroke-width="1.2"/>
<circle cx="1306.5" cy="880.2" r="5.6" fill="#5c9a9b" stroke="#1b3536" stroke-width="1.2"/>
<circle cx="1306.5" cy="888" r="5.6" fill="#5c9a9b" stroke="#1b3536" stroke-width="1.2"/>
<circle cx="1306.5" cy="894.2" r="5.6" fill="#5c9a9b" stroke="#1b3536" stroke-width="1.2"/>
<circle cx="1306.5" cy="900.7" r="5.6" fill="#5c9a9b" stroke="#1b3536" stroke-width="1.2"/>
<text transform="translate(1001.92,714.01) scale(0.3970,0.3900)" font-size="100" fill="#000" stroke="#000" stroke-width="0.76" stroke-linejoin="round">50</text>
<text transform="translate(1024.26,1044.41) scale(0.3970,0.3900)" font-size="100" fill="#000" stroke="#000" stroke-width="0.76" stroke-linejoin="round">0</text>
<text transform="translate(1004.00,924.27) rotate(-90) scale(0.3590,0.4030)" font-size="100" fill="#000" stroke="#000" stroke-width="0.79" stroke-linejoin="round">RMSSD</text>
<text transform="translate(1106.63,1089.00) scale(0.4066,0.3960)" font-size="100" fill="#000" stroke="#000" stroke-width="0.75" stroke-linejoin="round">Rest</text>
<text transform="translate(1241.68,1089.00) scale(0.4050,0.3960)" font-size="100" fill="#000" stroke="#000" stroke-width="0.75" stroke-linejoin="round">Qigong</text>
<text transform="translate(1204.37,723.81) scale(0.6188,0.5114)" font-size="100" fill="#e31b23" stroke="#e31b23" stroke-width="0.88" stroke-linejoin="round">**</text>
</g>
<g>
<path d="M1526.1,687.2V1030.8H1869.5" fill="none" stroke="#000" stroke-width="3"/>
<line x1="1619.7" y1="955.3" x2="1619.7" y2="1000.6" stroke="#2c4f50" stroke-width="2.6"/>
<rect x="1561.3" y="975.9" width="117.4" height="19.7" fill="#c3c3c4" stroke="#2c4f50" stroke-width="2.8"/>
<line x1="1561.3" y1="988" x2="1678.7" y2="988" stroke="#2c4f50" stroke-width="3.5"/>
<line x1="1776.3" y1="725.7" x2="1776.3" y2="956.3" stroke="#2c4f50" stroke-width="2.6"/>
<rect x="1716.4" y="778.5" width="118.3" height="147.1" fill="#7df0c9" stroke="#2c4f50" stroke-width="2.8"/>
<line x1="1716.4" y1="880.8" x2="1834.7" y2="880.8" stroke="#2c4f50" stroke-width="3.5"/>
<line x1="1619.7" y1="932.6" x2="1776.3" y2="788.1" stroke="#9a9a9a" stroke-width="1.1"/>
<line x1="1619.7" y1="955.3" x2="1776.3" y2="751.3" stroke="#9a9a9a" stroke-width="1.1"/>
<line x1="1619.7" y1="982" x2="1776.3" y2="725.7" stroke="#9a9a9a" stroke-width="1.1"/>
<line x1="1619.7" y1="984" x2="1776.3" y2="859.6" stroke="#9a9a9a" stroke-width="1.1"/>
<line x1="1619.7" y1="988" x2="1776.3" y2="903.4" stroke="#9a9a9a" stroke-width="1.1"/>
<line x1="1619.7" y1="990" x2="1776.3" y2="921" stroke="#9a9a9a" stroke-width="1.1"/>
<line x1="1619.7" y1="996" x2="1776.3" y2="939.2" stroke="#9a9a9a" stroke-width="1.1"/>
<line x1="1619.7" y1="1000.6" x2="1776.3" y2="956.3" stroke="#9a9a9a" stroke-width="1.1"/>
<circle cx="1619.7" cy="932.6" r="5.6" fill="#5c9a9b" stroke="#1b3536" stroke-width="1.2"/>
<circle cx="1619.7" cy="955.3" r="5.6" fill="#5c9a9b" stroke="#1b3536" stroke-width="1.2"/>
<circle cx="1619.7" cy="982" r="5.6" fill="#5c9a9b" stroke="#1b3536" stroke-width="1.2"/>
<circle cx="1619.7" cy="988" r="5.6" fill="#5c9a9b" stroke="#1b3536" stroke-width="1.2"/>
<circle cx="1619.7" cy="993" r="5.6" fill="#5c9a9b" stroke="#1b3536" stroke-width="1.2"/>
<circle cx="1619.7" cy="1000.6" r="5.6" fill="#5c9a9b" stroke="#1b3536" stroke-width="1.2"/>
<circle cx="1776.3" cy="725.7" r="5.6" fill="#5c9a9b" stroke="#1b3536" stroke-width="1.2"/>
<circle cx="1776.3" cy="751.3" r="5.6" fill="#5c9a9b" stroke="#1b3536" stroke-width="1.2"/>
<circle cx="1776.3" cy="788.1" r="5.6" fill="#5c9a9b" stroke="#1b3536" stroke-width="1.2"/>
<circle cx="1776.3" cy="859.6" r="5.6" fill="#5c9a9b" stroke="#1b3536" stroke-width="1.2"/>
<circle cx="1776.3" cy="903.4" r="5.6" fill="#5c9a9b" stroke="#1b3536" stroke-width="1.2"/>
<circle cx="1776.3" cy="921" r="5.6" fill="#5c9a9b" stroke="#1b3536" stroke-width="1.2"/>
<circle cx="1776.3" cy="939.2" r="5.6" fill="#5c9a9b" stroke="#1b3536" stroke-width="1.2"/>
<circle cx="1776.3" cy="956.3" r="5.6" fill="#5c9a9b" stroke="#1b3536" stroke-width="1.2"/>
<text transform="translate(1428.26,714.01) scale(0.3970,0.3900)" font-size="100" fill="#000" stroke="#000" stroke-width="0.76" stroke-linejoin="round">5000</text>
<text transform="translate(1494.46,1044.41) scale(0.3970,0.3900)" font-size="100" fill="#000" stroke="#000" stroke-width="0.76" stroke-linejoin="round">0</text>
<text transform="translate(1474.60,958.20) rotate(-90) scale(0.3630,0.4030)" font-size="100" fill="#000" stroke="#000" stroke-width="0.78" stroke-linejoin="round">LF/HF Ratio</text>
<text transform="translate(1576.63,1089.00) scale(0.4066,0.3960)" font-size="100" fill="#000" stroke="#000" stroke-width="0.75" stroke-linejoin="round">Rest</text>
<text transform="translate(1711.68,1089.00) scale(0.4050,0.3960)" font-size="100" fill="#000" stroke="#000" stroke-width="0.75" stroke-linejoin="round">Qigong</text>
<text transform="translate(1674.78,723.81) scale(0.6094,0.5114)" font-size="100" fill="#e31b23" stroke="#e31b23" stroke-width="0.89" stroke-linejoin="round">**</text>
</g>
</svg></body></html>
